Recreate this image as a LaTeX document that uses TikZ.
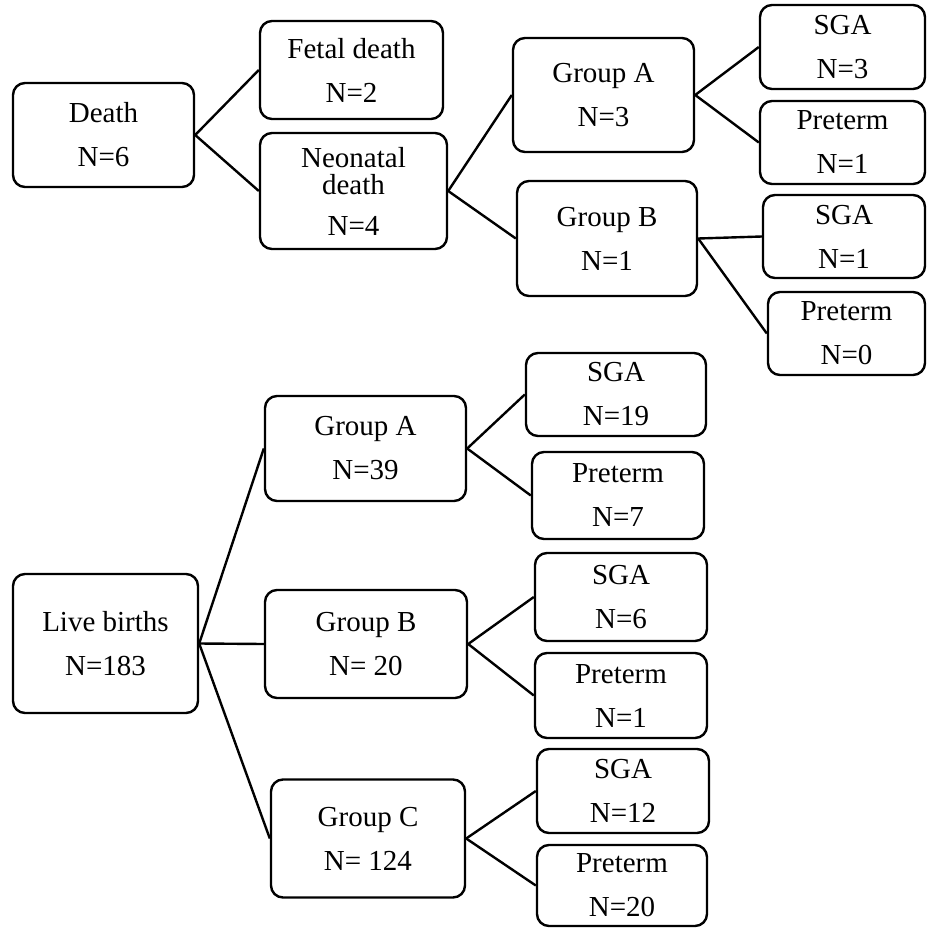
\documentclass[tikz,border=0pt]{standalone}
\usepackage{fontspec}
\setmainfont{Liberation Serif}
\begin{document}
\begin{tikzpicture}
  [x=1pt,y=-1pt,line width=2.4pt,
   every node/.style={draw,rounded corners=12pt,align=center,inner sep=0pt,
     font=\fontsize{29}{44}\selectfont}]
  \useasboundingbox (0,0) rectangle (927,928);
  % deaths
  \node (death)[minimum width=181,minimum height=104] at (103.5,135) {Death\\N=6};
  \node (fetal)[minimum width=183,minimum height=98] at (351.5,70) {Fetal death\\N=2};
  \node (neo)[minimum width=187,minimum height=116] at (353.5,191) {Neonatal\\[-17pt]death\\[-3pt]N=4};
  \node (dgA)[minimum width=181,minimum height=114] at (603.5,95) {Group A\\N=3};
  \node (dgB)[minimum width=180,minimum height=115] at (607,238.5) {Group B\\N=1};
  \node (dsgaA)[minimum width=165,minimum height=84] at (842.5,47) {SGA\\N=3};
  \node (dpreA)[minimum width=165,minimum height=83] at (842.5,142.5) {Preterm\\N=1};
  \node (dsgaB)[minimum width=162,minimum height=83] at (844,236.5) {SGA\\N=1};
  \node (dpreB)[minimum width=157,minimum height=83] at (846.5,333.5) {Preterm\\N=0};
  % live births
  \node (live)[minimum width=185,minimum height=139] at (105.5,643.5) {Live births\\N=183};
  \node (lgA)[minimum width=201,minimum height=105] at (365.5,448.5) {Group A\\N=39};
  \node (lgB)[minimum width=202,minimum height=108] at (366,644) {Group B\\N= 20};
  \node (lgC)[minimum width=194,minimum height=118] at (368,838.5) {Group C\\N= 124};
  \node (lsgaA)[minimum width=180,minimum height=83] at (616,394.5) {SGA\\N=19};
  \node (lpreA)[minimum width=172,minimum height=87] at (618,495.5) {Preterm\\N=7};
  \node (lsgaB)[minimum width=172,minimum height=88] at (621,597) {SGA\\N=6};
  \node (lpreB)[minimum width=172,minimum height=85] at (621,695.5) {Preterm\\N=1};
  \node (lsgaC)[minimum width=172,minimum height=84] at (623,791) {SGA\\N=12};
  \node (lpreC)[minimum width=170,minimum height=81] at (622,885.5) {Preterm\\N=20};
  \foreach \from/\to in {death/fetal,death/neo,neo/dgA,neo/dgB,dgA/dsgaA,dgA/dpreA,
      dgB/dsgaB,dgB/dpreB,live/lgA,live/lgB,live/lgC,lgA/lsgaA,lgA/lpreA,
      lgB/lsgaB,lgB/lpreB,lgC/lsgaC,lgC/lpreC}
    \draw (\from.east) -- (\to.west);
\end{tikzpicture}
\end{document}
